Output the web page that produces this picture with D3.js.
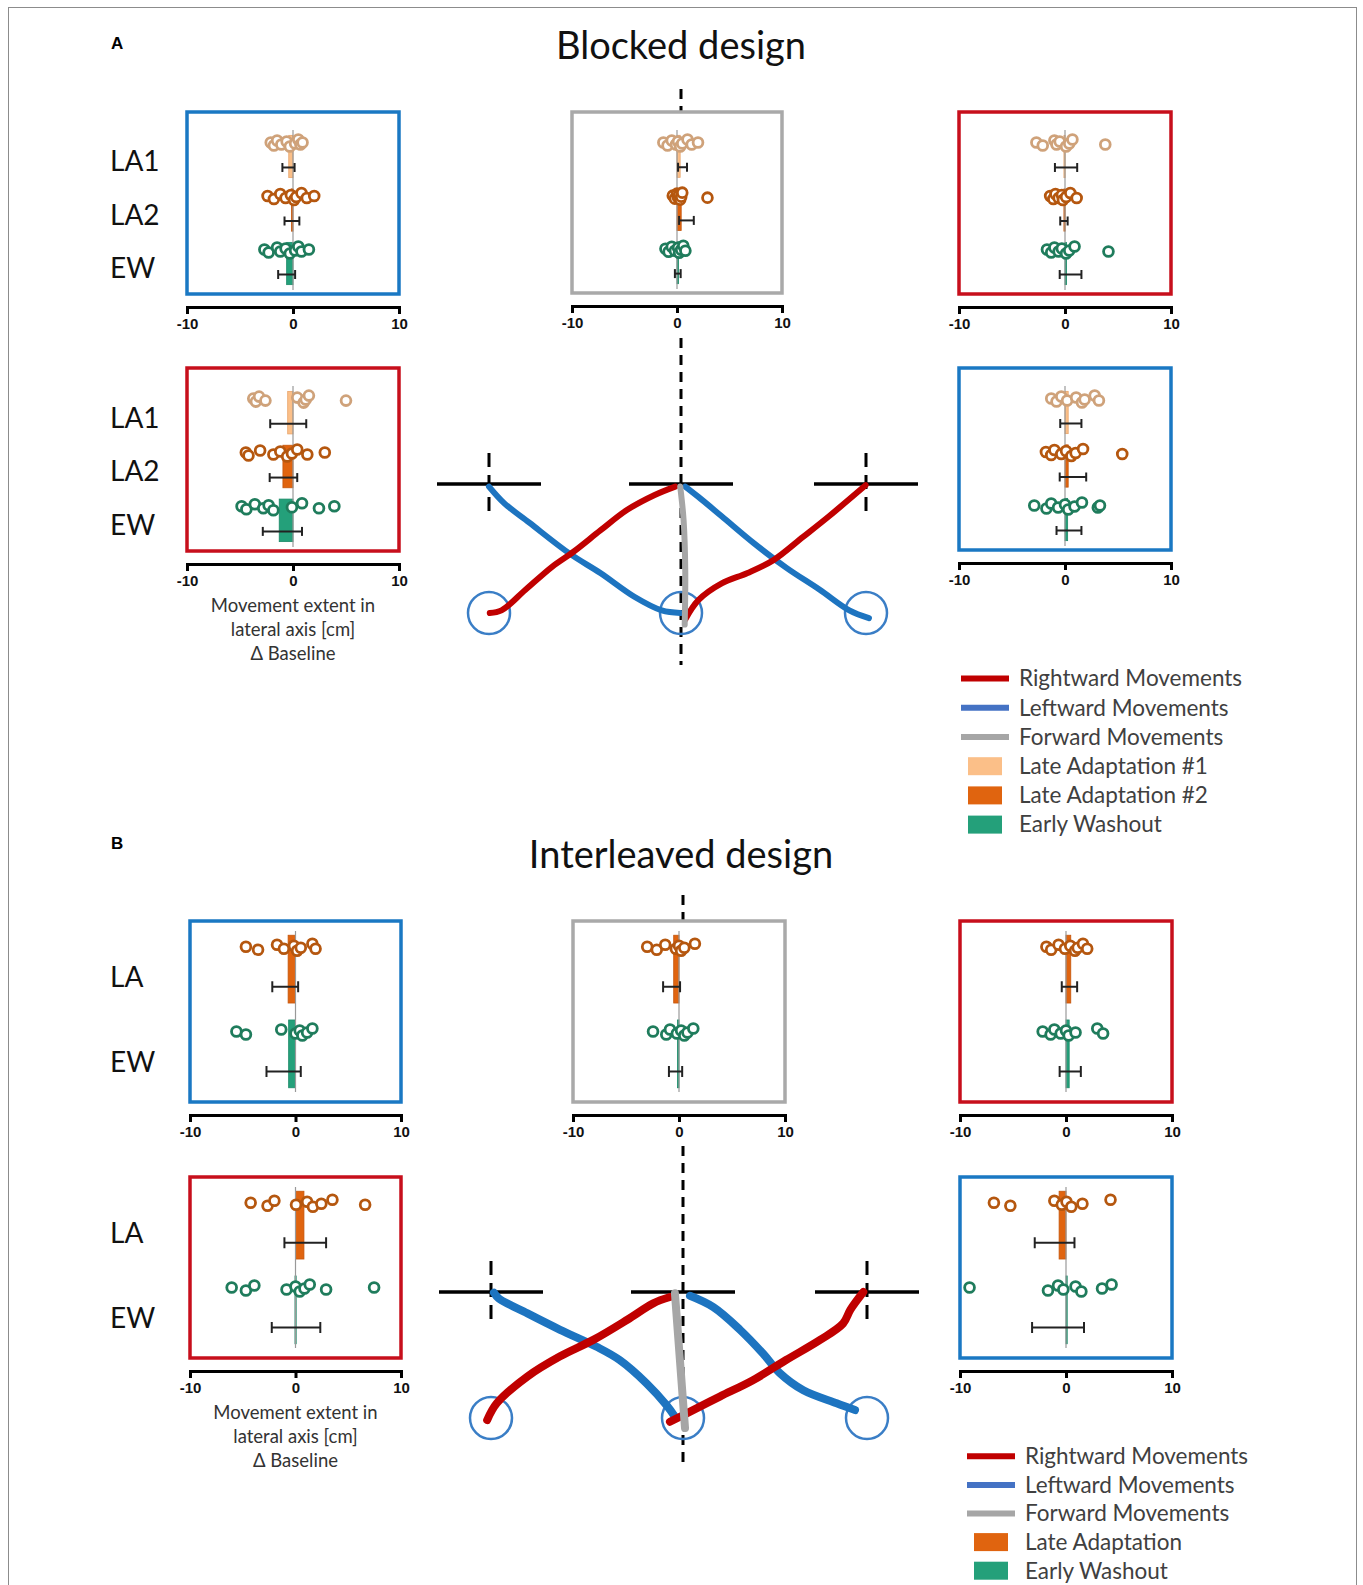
<!DOCTYPE html>
<html>
<head>
<meta charset="utf-8">
<script src="https://cdn.jsdelivr.net/npm/d3@7"></script>
<style>
  body { margin: 0; background: #fff; }
  svg { display: block; font-family: Lato, 'Open Sans', sans-serif; }
</style>
</head>
<body>
<div id="root"></div>
<script>
// ---------------- data ----------------
const axisTicks = [-10, 0, 10];
const axisTitle = ['Movement extent in', 'lateral axis [cm]', '\u0394 Baseline'];

// mean = bar, lo/hi = error bar ends, dots = single subjects (cm, delta baseline)
const blockedTopLeft = [
  {cond: 'LA1', mean: -0.4, lo: -1.0, hi: 0.15, dots: [-2.1, -1.8, -1.5, -1.1, -0.6, -0.3, 0.2, 0.5, 0.7, 0.9]},
  {cond: 'LA2', mean: -0.15, lo: -0.8, hi: 0.6, dots: [-2.4, -1.8, -1.2, -0.7, -0.2, 0.1, 0.3, 0.8, 1.3, 2.0]},
  {cond: 'EW', mean: -0.6, lo: -1.4, hi: 0.2, dots: [-2.7, -2.3, -1.5, -1.2, -0.7, -0.3, 0.2, 0.5, 0.8, 1.5]},
];
const blockedTopMid = [
  {cond: 'LA1', mean: 0.3, lo: 0.1, hi: 0.95, dots: [-1.3, -0.9, -0.5, -0.1, 0.1, 0.3, 0.5, 1.0, 1.4, 2.0]},
  {cond: 'LA2', mean: 0.4, lo: 0.2, hi: 1.6, dots: [-0.4, -0.2, 0, 0.1, 0.2, 0.3, 0.4, 0.5, 2.9]},
  {cond: 'EW', mean: 0.15, lo: -0.2, hi: 0.35, dots: [-1.1, -0.8, -0.5, -0.2, 0.1, 0.2, 0.4, 0.6, 0.8]},
];
const blockedTopRight = [
  {cond: 'LA1', mean: -0.1, lo: -0.95, hi: 1.15, dots: [-2.7, -2.1, -1.0, -0.8, -0.5, 0.1, 0.4, 0.7, 3.8]},
  {cond: 'LA2', mean: -0.1, lo: -0.45, hi: 0.25, dots: [-1.4, -1.1, -0.9, -0.6, -0.3, -0.2, 0.1, 0.5, 1.1]},
  {cond: 'EW', mean: 0.15, lo: -0.5, hi: 1.55, dots: [-1.7, -1.3, -1.0, -0.6, -0.3, 0.1, 0.4, 0.9, 4.1]},
];
const blockedBotLeft = [
  {cond: 'LA1', mean: -0.5, lo: -2.15, hi: 1.25, dots: [-3.75, -3.5, -3.2, -2.6, 0.4, 1.0, 1.2, 1.5, 5.0]},
  {cond: 'LA2', mean: -0.95, lo: -2.2, hi: 0.4, dots: [-4.45, -4.2, -3.1, -1.85, -1.2, -0.55, -0.1, 0.4, 1.35, 3.0]},
  {cond: 'EW', mean: -1.3, lo: -2.85, hi: 0.85, dots: [-4.85, -4.4, -3.6, -2.8, -2.3, -1.85, -0.1, 0.85, 2.45, 3.9]},
];
const blockedBotRight = [
  {cond: 'LA1', mean: 0.3, lo: -0.45, hi: 1.55, dots: [-1.3, -0.8, -0.35, 0.2, 1.05, 1.6, 1.85, 2.8, 3.2]},
  {cond: 'LA2', mean: 0.3, lo: -0.5, hi: 2.0, dots: [-1.8, -1.3, -1.0, -0.35, 0.1, 0.6, 1.0, 1.7, 5.4]},
  {cond: 'EW', mean: 0.25, lo: -0.8, hi: 1.55, dots: [-2.9, -1.75, -1.3, -0.65, 0, 0.3, 0.9, 1.6, 3.1, 3.3]},
];
const interTopLeft = [
  {cond: 'LA', mean: -0.7, lo: -2.2, hi: 0.25, dots: [-4.7, -3.55, -1.75, -1.1, -0.15, 0.15, 0.5, 1.6, 1.9]},
  {cond: 'EW', mean: -0.65, lo: -2.75, hi: 0.5, dots: [-5.6, -4.7, -1.35, 0, 0.4, 0.65, 1.1, 1.6]},
];
const interTopMid = [
  {cond: 'LA', mean: -0.5, lo: -1.5, hi: 0.1, dots: [-3.0, -2.1, -1.3, -0.3, 0, 0.2, 0.5, 1.5]},
  {cond: 'EW', mean: -0.15, lo: -0.95, hi: 0.3, dots: [-2.45, -1.2, -0.85, -0.2, 0.2, 0.5, 0.8, 1.35]},
];
const interTopRight = [
  {cond: 'LA', mean: 0.45, lo: -0.4, hi: 1.05, dots: [-1.85, -1.4, -0.7, -0.1, 0.4, 0.85, 1.1, 1.6, 2.0]},
  {cond: 'EW', mean: 0.3, lo: -0.6, hi: 1.4, dots: [-2.2, -1.45, -1.1, -0.5, 0, 0.25, 0.9, 2.95, 3.5]},
];
const interBotLeft = [
  {cond: 'LA', mean: 0.8, lo: -1.05, hi: 2.9, dots: [-4.25, -2.65, -2.0, 0.05, 1.1, 1.65, 2.45, 3.5, 6.6]},
  {cond: 'EW', mean: -0.05, lo: -2.25, hi: 2.35, dots: [-6.05, -4.7, -3.9, -0.85, 0, 0.4, 0.85, 1.35, 2.9, 7.45]},
];
const interBotRight = [
  {cond: 'LA', mean: -0.65, lo: -2.95, hi: 0.8, dots: [-6.8, -5.25, -1.1, -0.4, 0.05, 0.5, 1.55, 4.2]},
  {cond: 'EW', mean: 0.05, lo: -3.2, hi: 1.7, dots: [-9.1, -1.7, -0.75, -0.25, 0.9, 1.45, 3.4, 4.3]},
];

// hand paths, workspace units: x -1 = left target, 0 = centre, 1 = right target; y 0 = start, 1 = target
const targetPositions = [-1, 0, 1];
const blockedRightward = [
  [[-0.996, 0.0], [-0.935, 0.02], [-0.81, 0.18], [-0.67, 0.36], [-0.56, 0.475], [-0.42, 0.64], [-0.28, 0.8], [-0.137, 0.915], [-0.03, 0.98]],
  [[0.023, -0.05], [0.094, 0.1], [0.22, 0.23], [0.36, 0.31], [0.5, 0.41], [0.66, 0.59], [0.8, 0.75], [0.998, 0.99]],
];
const blockedLeftward = [
  [[-0.004, 0.0], [-0.1, 0.02], [-0.243, 0.126], [-0.42, 0.31], [-0.58, 0.46], [-0.79, 0.7], [-0.92, 0.85], [-1.0, 0.98]],
  [[1.016, -0.04], [0.91, 0.02], [0.75, 0.18], [0.57, 0.35], [0.395, 0.54], [0.22, 0.75], [0.094, 0.9], [0.023, 0.98]],
];
const blockedForward = [
  [[0.02, -0.09], [0.023, 0.33], [0.014, 0.72], [-0.004, 0.98]],
];
const interRightward = [
  [[-1.02, -0.016], [-0.97, 0.117], [-0.81, 0.33], [-0.64, 0.49], [-0.467, 0.62], [-0.29, 0.78], [-0.155, 0.91], [-0.068, 0.96]],
  [[-0.068, -0.03], [0.02, 0.037], [0.2, 0.17], [0.38, 0.3], [0.56, 0.46], [0.745, 0.62], [0.87, 0.75], [0.91, 0.86], [0.98, 1.0]],
];
const interLeftward = [
  [[-0.042, 0.01], [-0.085, 0.1], [-0.19, 0.275], [-0.33, 0.46], [-0.45, 0.565], [-0.64, 0.7], [-0.81, 0.83], [-0.96, 0.95], [-0.985, 0.995]],
  [[0.935, 0.063], [0.835, 0.117], [0.654, 0.22], [0.527, 0.355], [0.436, 0.51], [0.31, 0.7], [0.165, 0.88], [0.038, 0.97]],
];
const interForward = [
  [[0.011, -0.08], [-0.042, 0.99]],
];

const legendBlocked = [
  {label: 'Rightward Movements', kind: 'line', key: 'right'},
  {label: 'Leftward Movements', kind: 'line', key: 'left'},
  {label: 'Forward Movements', kind: 'line', key: 'forward'},
  {label: 'Late Adaptation #1', kind: 'box', key: 'LA1'},
  {label: 'Late Adaptation #2', kind: 'box', key: 'LA2'},
  {label: 'Early Washout', kind: 'box', key: 'EW'},
];
const legendInter = [
  {label: 'Rightward Movements', kind: 'line', key: 'right'},
  {label: 'Leftward Movements', kind: 'line', key: 'left'},
  {label: 'Forward Movements', kind: 'line', key: 'forward'},
  {label: 'Late Adaptation', kind: 'box', key: 'LA'},
  {label: 'Early Washout', kind: 'box', key: 'EW'},
];

// ---------------- styles ----------------
const barFill   = {LA1: '#fbbf88', LA2: '#e0640f', EW: '#24a07a', LA: '#e0640f'};
const barEdge   = {LA1: '#e8a46a', LA2: '#c4560c', EW: '#1c8a68', LA: '#c4560c'};
const dotStroke = {LA1: '#cfa27a', LA2: '#b5570f', EW: '#1f7c5c', LA: '#b5570f'};
const frameColor = {blue: '#1a78c3', red: '#c70f1c', gray: '#a9a9a9'};
const pathColor = {right: '#c00000', left: '#1d74c0', forward: '#a6a6a6'};
const legendLine = {right: '#c00000', left: '#4472c4', forward: '#a6a6a6'};
const JITTER = [0, 3, -2, 2, -1, 4, 1, -3, 2, 0, 3];

const W = 1363, H = 1585;
const svg = d3.select('#root').append('svg')
  .attr('width', W)
  .attr('height', H);

svg.append('rect')
  .attr('x', 8.5).attr('y', 7.5)
  .attr('width', 1348).attr('height', 1600)
  .attr('fill', 'none')
  .attr('stroke', '#8c8c8c')
  .attr('stroke-width', 1);

// ---------------- titles ----------------
[['A', 'Blocked design', 43, 46], ['B', 'Interleaved design', 843, 855]].forEach(([letter, title, ly, ty]) => {
  svg.append('text')
    .attr('x', 111).attr('y', ly)
    .attr('dy', '0.35em')
    .style('font-family', "'Liberation Sans', Arial, sans-serif")
    .style('font-weight', 700)
    .style('font-size', '17px')
    .text(letter);
  svg.append('text')
    .attr('x', 681).attr('y', ty)
    .attr('dy', '0.35em')
    .attr('text-anchor', 'middle')
    .style('font-size', '38px')
    .attr('fill', '#111')
    .text(title);
});

// ---------------- workspace (targets, start circles, hand paths) ----------------
function drawWorkspace(cfg) {
  const xT = d3.scaleLinear().domain([-1, 0, 1]).range(cfg.xRange);
  const yT = d3.scaleLinear().domain([0, 1]).range(cfg.yRange);
  const g = svg.append('g');
  const yTarget = yT(1), yStart = yT(0);

  // long centre dashed line
  cfg.centreDash.forEach(([a, b]) => {
    g.append('line')
      .attr('x1', xT(0)).attr('x2', xT(0))
      .attr('y1', a).attr('y2', b)
      .attr('stroke', '#000')
      .attr('stroke-width', 3)
      .attr('stroke-dasharray', '10,7');
  });

  g.selectAll('.side-dash')
    .data([-1, 1])
    .enter().append('line')
      .attr('class', 'side-dash')
      .attr('x1', d => xT(d)).attr('x2', d => xT(d))
      .attr('y1', yTarget - 31).attr('y2', yTarget + 33)
      .attr('stroke', '#000')
      .attr('stroke-width', 3)
      .attr('stroke-dasharray', '14,8');

  g.selectAll('.target')
    .data(targetPositions)
    .enter().append('line')
      .attr('class', 'target')
      .attr('x1', d => xT(d) - 52).attr('x2', d => xT(d) + 52)
      .attr('y1', yTarget).attr('y2', yTarget)
      .attr('stroke', '#000')
      .attr('stroke-width', 3.5);

  g.selectAll('.start')
    .data(targetPositions)
    .enter().append('circle')
      .attr('class', 'start')
      .attr('cx', d => xT(d)).attr('cy', yStart)
      .attr('r', 21)
      .attr('fill', 'none')
      .attr('stroke', '#3a7ec6')
      .attr('stroke-width', 2.5);

  const line = d3.line()
    .x(d => xT(d[0]))
    .y(d => yT(d[1]))
    .curve(d3.curveCatmullRom.alpha(0.5));

  [['left', cfg.left], ['right', cfg.right], ['forward', cfg.forward]].forEach(([key, paths]) => {
    g.selectAll('.path-' + key)
      .data(paths)
      .enter().append('path')
        .attr('class', 'path-' + key)
        .attr('d', line)
        .attr('fill', 'none')
        .attr('stroke', pathColor[key])
        .attr('stroke-width', cfg.width)
        .attr('stroke-linecap', 'round')
        .attr('stroke-linejoin', 'round');
  });
}

drawWorkspace({
  xRange: [489, 681, 866], yRange: [613, 484],
  centreDash: [[89, 112], [338, 665]],
  left: blockedLeftward, right: blockedRightward, forward: blockedForward, width: 6,
});
drawWorkspace({
  xRange: [491, 683, 867], yRange: [1418, 1292],
  centreDash: [[895, 921], [1146, 1468]],
  left: interLeftward, right: interRightward, forward: interForward, width: 8,
});

// ---------------- panels ----------------
const layout = [
  {data: blockedTopLeft,  box: [187, 112, 399, 294], frame: 'blue', labels: true},
  {data: blockedTopMid,   box: [572, 112, 782, 293], frame: 'gray'},
  {data: blockedTopRight, box: [959, 112, 1171, 294], frame: 'red'},
  {data: blockedBotLeft,  box: [187, 368, 399, 551], frame: 'red', labels: true, title: true},
  {data: blockedBotRight, box: [959, 368, 1171, 550], frame: 'blue'},
  {data: interTopLeft,    box: [190, 921, 401, 1102], frame: 'blue', labels: true},
  {data: interTopMid,     box: [573, 921, 785, 1102], frame: 'gray'},
  {data: interTopRight,   box: [960, 921, 1172, 1102], frame: 'red'},
  {data: interBotLeft,    box: [190, 1177, 401, 1358], frame: 'red', labels: true, title: true},
  {data: interBotRight,   box: [960, 1177, 1172, 1358], frame: 'blue'},
];

function drawPanel(p) {
  const [x0, y0, x1, y1] = p.box;
  const blocked = p.data.length === 3;
  const x = d3.scaleLinear().domain([-10, 10]).range([x0, x1]);
  const y = d3.scaleBand()
    .domain(p.data.map(d => d.cond))
    .range(blocked ? [y0 + 18, y1 - 4] : [y0 + 10, y1 - 10])
    .paddingInner(blocked ? 0.21 : 0.2)
    .paddingOuter(blocked ? 0.1 : 0.05);
  const bw = y.bandwidth();
  const cap = blocked ? 4.5 : 5.5;
  const g = svg.append('g');

  g.append('rect')
    .attr('x', x0).attr('y', y0)
    .attr('width', x1 - x0).attr('height', y1 - y0)
    .attr('fill', '#fff')
    .attr('stroke', frameColor[p.frame])
    .attr('stroke-width', 3.5);

  g.selectAll('.bar')
    .data(p.data)
    .enter().append('rect')
      .attr('class', 'bar')
      .attr('x', d => Math.min(x(0), x(d.mean)))
      .attr('width', d => Math.max(1.2, Math.abs(x(d.mean) - x(0))))
      .attr('y', d => y(d.cond))
      .attr('height', bw)
      .attr('fill', d => barFill[d.cond])
      .attr('stroke', d => barEdge[d.cond])
      .attr('stroke-width', 0.8);

  g.append('line')
    .attr('x1', x(0)).attr('x2', x(0))
    .attr('y1', y.range()[0]).attr('y2', y.range()[1])
    .attr('stroke', '#999')
    .attr('stroke-width', 1.2);

  const dots = p.data.flatMap(d => d.dots.map((v, i) => ({cond: d.cond, v, i})));
  g.selectAll('.dot')
    .data(dots)
    .enter().append('circle')
      .attr('class', 'dot')
      .attr('cx', d => x(d.v))
      .attr('cy', d => y(d.cond) + bw * 0.17 + JITTER[d.i % JITTER.length])
      .attr('r', 4.9)
      .attr('fill', '#fff')
      .attr('stroke', d => dotStroke[d.cond])
      .attr('stroke-width', 2.8);

  const err = g.selectAll('.err')
    .data(p.data)
    .enter().append('g')
      .attr('class', 'err')
      .attr('transform', d => `translate(0,${y(d.cond) + bw * 0.76})`)
      .attr('stroke', '#222')
      .attr('stroke-width', 2);
  err.append('line')
    .attr('x1', d => x(d.lo)).attr('x2', d => x(d.hi));
  err.append('line')
    .attr('x1', d => x(d.lo)).attr('x2', d => x(d.lo))
    .attr('y1', -cap).attr('y2', cap);
  err.append('line')
    .attr('x1', d => x(d.hi)).attr('x2', d => x(d.hi))
    .attr('y1', -cap).attr('y2', cap);

  const axis = g.append('g')
    .attr('transform', `translate(0,${y1 + 13})`)
    .call(d3.axisBottom(x).tickValues(axisTicks).tickSize(7).tickPadding(4).tickFormat(d => String(d)));
  axis.select('.domain').attr('stroke', '#000').attr('stroke-width', 3);
  axis.selectAll('.tick line').attr('stroke', '#000').attr('stroke-width', 3);
  axis.selectAll('.tick text')
    .attr('fill', '#111')
    .style('font-family', "'Liberation Sans', Arial, sans-serif")
    .style('font-size', '15px')
    .style('font-weight', 700);

  if (p.labels) {
    g.selectAll('.cond-label')
      .data(p.data)
      .enter().append('text')
        .attr('class', 'cond-label')
        .attr('x', 110)
        .attr('y', d => y(d.cond) + bw * 0.62)
        .attr('dy', '0.35em')
        .attr('fill', '#111')
        .style('font-size', '28px')
        .text(d => d.cond);
  }

  if (p.title) {
    g.selectAll('.axis-title')
      .data(axisTitle)
      .enter().append('text')
        .attr('class', 'axis-title')
        .attr('x', (x0 + x1) / 2)
        .attr('y', (d, i) => y1 + 55 + i * 24)
        .attr('dy', '0.35em')
        .attr('text-anchor', 'middle')
        .attr('fill', '#333')
        .style('font-size', '18.5px')
        .text(d => d);
  }
}

layout.forEach(drawPanel);

// ---------------- legends ----------------
function drawLegend(items, lx, ly, step) {
  const rows = d3.scaleBand()
    .domain(items.map(d => d.label))
    .range([ly, ly + items.length * step]);
  const g = svg.append('g');
  const row = g.selectAll('.legend-row')
    .data(items)
    .enter().append('g')
      .attr('class', 'legend-row')
      .attr('transform', d => `translate(${lx},${rows(d.label) + rows.bandwidth() / 2})`);

  row.filter(d => d.kind === 'line').append('line')
    .attr('x1', 0).attr('x2', 48)
    .attr('stroke', d => legendLine[d.key])
    .attr('stroke-width', 6);
  row.filter(d => d.kind === 'box').append('rect')
    .attr('x', 7).attr('y', -9)
    .attr('width', 34).attr('height', 18)
    .attr('fill', d => barFill[d.key]);
  row.append('text')
    .attr('x', 58)
    .attr('dy', '0.35em')
    .attr('fill', '#404040')
    .style('font-size', '22.5px')
    .text(d => d.label);
}

drawLegend(legendBlocked, 961, 664, 29.2);
drawLegend(legendInter, 967, 1442, 28.6);
</script>
</body>
</html>
